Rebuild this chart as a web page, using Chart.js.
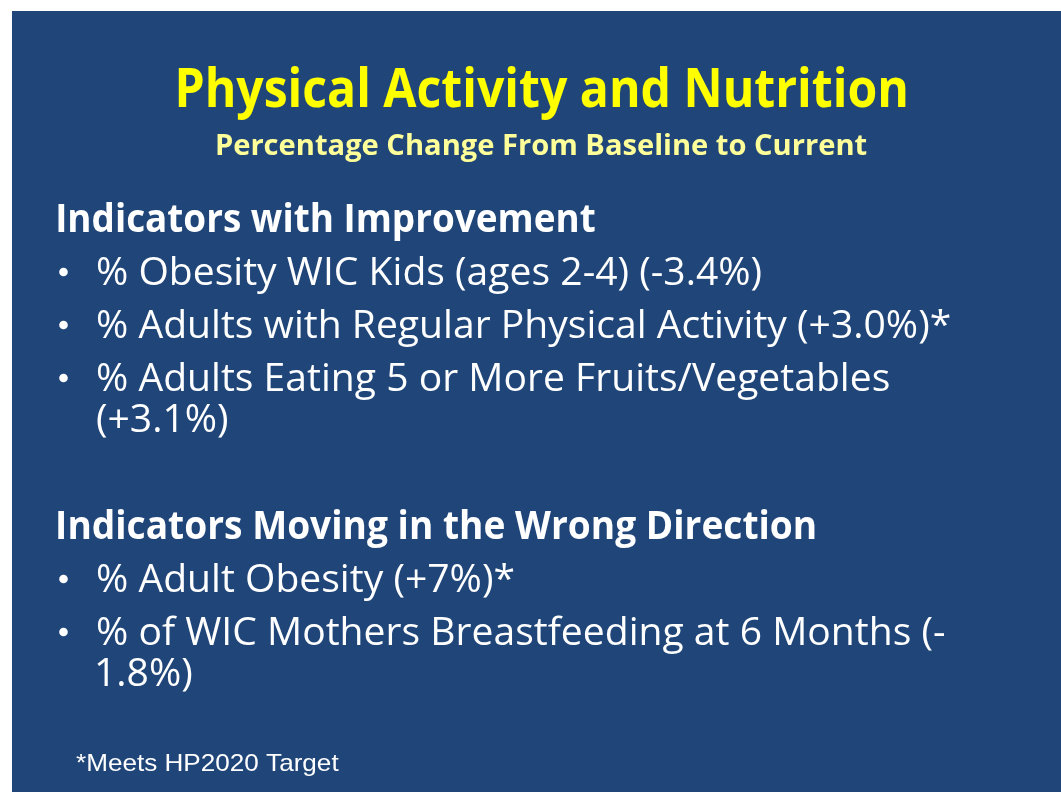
<!DOCTYPE html>
<html><head><meta charset="utf-8">
<script src="https://cdn.jsdelivr.net/npm/chart.js@4.4.1/dist/chart.umd.min.js"></script>
<style>html,body{margin:0;padding:0;background:#fff;overflow:hidden}canvas{display:block}</style>
</head><body>
<canvas id="c" width="1061" height="792"></canvas>
<script>
// ---- content / data ----
const slideTitle = 'Physical Activity and Nutrition';
const slideSubtitle = 'Percentage Change From Baseline to Current';
const groupHeadings = ['Indicators with Improvement', 'Indicators Moving in the Wrong Direction'];
const improvementIndicators = ['% Obesity WIC Kids (ages 2-4)', '% Adults with Regular Physical Activity', '% Adults Eating 5 or More Fruits/Vegetables'];
const improvementChange = [-3.4, 3.0, 3.1];
const improvementDecimals = [1, 1, 1];
const improvementMeetsTarget = [false, true, false];
const wrongIndicators = ['% Adult Obesity', '% of WIC Mothers Breastfeeding at 6 Months'];
const wrongChange = [7, -1.8];
const wrongDecimals = [0, 1];
const wrongMeetsTarget = [true, false];
const footnoteText = '*Meets HP2020 Target';

function fmtChange(v, d, star) {
  const sign = v > 0 ? '+' : (v < 0 ? '-' : '');
  return '(' + sign + Math.abs(v).toFixed(d) + '%)' + (star ? '*' : '');
}
const groups = [
  improvementIndicators.map((t, i) => t + ' ' + fmtChange(improvementChange[i], improvementDecimals[i], improvementMeetsTarget[i])),
  wrongIndicators.map((t, i) => t + ' ' + fmtChange(wrongChange[i], wrongDecimals[i], wrongMeetsTarget[i]))
];

// ---- styles ----
const BG = '#204679';
const BODY_FONT = '"Open Sans", "Noto Sans", sans-serif';

function ink(ctx, s) {
  const m = ctx.measureText(s);
  return { w: m.actualBoundingBoxLeft + m.actualBoundingBoxRight, l: m.actualBoundingBoxLeft };
}
function drawFit(ctx, s, font, color, left, right, baseline) {
  ctx.font = font;
  const m = ink(ctx, s);
  const sx = (right - left) / m.w;
  ctx.save();
  ctx.translate(left, baseline);
  ctx.scale(sx, 1);
  ctx.fillStyle = color;
  ctx.textAlign = 'left';
  ctx.textBaseline = 'alphabetic';
  ctx.fillText(s, m.l, 0);
  ctx.restore();
}
function drawScaled(ctx, s, sx, color, left, baseline) {
  const m = ink(ctx, s);
  ctx.save();
  ctx.translate(left, baseline);
  ctx.scale(sx, 1);
  ctx.fillStyle = color;
  ctx.textAlign = 'left';
  ctx.textBaseline = 'alphabetic';
  ctx.fillText(s, m.l, 0);
  ctx.restore();
}
function segments(s) {
  const out = []; let cur = '';
  for (const ch of s) { cur += ch; if (ch === ' ' || ch === '-') { out.push(cur); cur = ''; } }
  if (cur) out.push(cur);
  return out;
}
function wrap(ctx, s, sx, maxW) {
  const segs = segments(s); const lines = []; let line = '';
  for (const seg of segs) {
    const test = (line + seg).trimEnd();
    if (line && ink(ctx, test).w * sx > maxW) { lines.push(line.trimEnd()); line = seg; }
    else line += seg;
  }
  if (line) lines.push(line.trimEnd());
  return lines;
}

const slidePlugin = {
  id: 'slide',
  beforeDraw(chart) {
    const ctx = chart.ctx;
    ctx.save();
    ctx.fillStyle = '#ffffff';
    ctx.fillRect(0, 0, chart.width, chart.height);
    ctx.fillStyle = BG;
    ctx.fillRect(12, 11, chart.width - 12, chart.height - 11);
    ctx.restore();
  },
  afterDraw(chart) {
    const ctx = chart.ctx;
    ctx.save();
    drawFit(ctx, slideTitle, 'bold 53.5px ' + BODY_FONT, '#FFFF00', 178, 906, 107);
    drawFit(ctx, slideSubtitle, 'bold 28px ' + BODY_FONT, '#FFFF99', 217, 867, 155);

    // body scale derived from the longest reference line
    ctx.font = '38.5px ' + BODY_FONT;
    const sBody = 853 / ink(ctx, groups[0][1]).w;
    const headRight = [595, 815];
    const headBase = [232, 539];
    for (let g = 0; g < groups.length; g++) {
      drawFit(ctx, groupHeadings[g], 'bold 38.5px ' + BODY_FONT, '#FFFFFF', 58, headRight[g], headBase[g]);
      ctx.font = '38.5px ' + BODY_FONT;
      let y = headBase[g];
      groups[g].forEach(item => {
        y += 53;
        const lines = wrap(ctx, item, sBody, 870);
        ctx.fillStyle = '#FFFFFF';
        ctx.beginPath();
        ctx.arc(63.5, y - 13, 4.3, 0, Math.PI * 2);
        ctx.fill();
        lines.forEach((ln, k) => {
          if (k > 0) y += 40.5;
          drawScaled(ctx, ln, sBody, '#FFFFFF', 97, y);
        });
      });
    }
    drawFit(ctx, footnoteText, '24px "Liberation Sans", Arial, sans-serif', '#FFFFFF', 76, 339, 771);
    ctx.restore();
  }
};

new Chart(document.getElementById('c'), {
  type: 'bar',
  data: { labels: [], datasets: [] },
  options: {
    responsive: false,
    animation: false,
    devicePixelRatio: 1,
    events: [],
    plugins: { legend: { display: false }, tooltip: { enabled: false }, title: { display: false } },
    scales: { x: { display: false }, y: { display: false } }
  },
  plugins: [slidePlugin]
});
</script>
</body></html>
